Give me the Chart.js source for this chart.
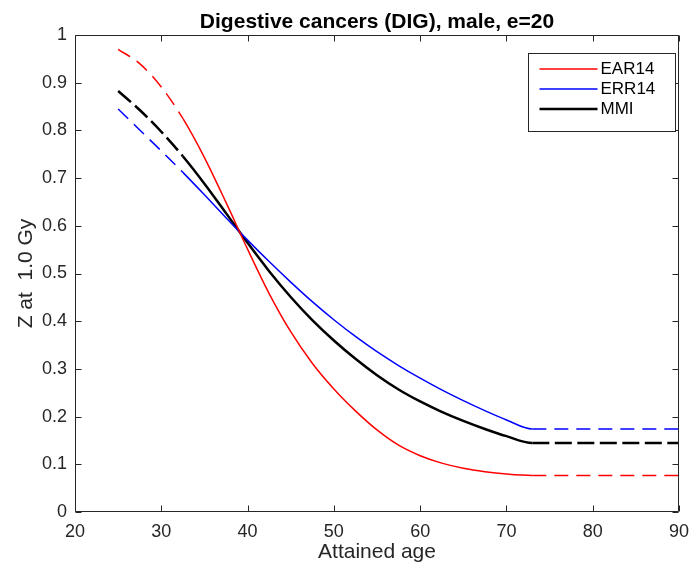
<!DOCTYPE html>
<html>
<head>
<meta charset="utf-8">
<script src="https://cdn.jsdelivr.net/npm/chart.js@4.4.0/dist/chart.umd.min.js"></script>
<style>
  html, body { margin: 0; padding: 0; background: #fff; }
  canvas { display: block; }
</style>
</head>
<body>
<canvas id="zChart" width="691" height="571"></canvas>
<script>
// attained age
var ages = [25, 27.5, 30, 32.5, 35, 37.5, 40, 42.5, 45, 47.5, 50, 52.5, 55, 57.5, 60, 62.5, 65, 67.5, 70, 73, 90];
// Z at 1.0 Gy
var ear14 = [0.970, 0.940, 0.891, 0.825, 0.743, 0.649, 0.551, 0.458, 0.378, 0.312, 0.258, 0.212, 0.172, 0.140, 0.118, 0.1025, 0.0918, 0.0845, 0.0795, 0.0765, 0.0765];
var err14 = [0.845, 0.801, 0.757, 0.712, 0.665, 0.617, 0.570, 0.525, 0.482, 0.441, 0.403, 0.368, 0.336, 0.307, 0.2805, 0.256, 0.2335, 0.2125, 0.193, 0.174, 0.174];
var mmi   = [0.8825, 0.8427, 0.7972, 0.7459, 0.6884, 0.6266, 0.5643, 0.5049, 0.4508, 0.4023, 0.3595, 0.3212, 0.2868, 0.2569, 0.2318, 0.2100, 0.1910, 0.1741, 0.159, 0.1448, 0.1448];
var labels = ['EAR14', 'ERR14', 'MMI'];
var xTicks = [20, 30, 40, 50, 60, 70, 80, 90];
var yTicks = [0, 0.1, 0.2, 0.3, 0.4, 0.5, 0.6, 0.7, 0.8, 0.9, 1];

var lineColors = ['#ff0000', '#0000ff', '#000000'];
var lineWidths = [1.5, 1.5, 2.5];
var solidFrom = 32.5, solidTo = 73;
var axisColor = '#262626';
Chart.defaults.font.family = '"Liberation Sans", Arial, sans-serif';

function pts(vals){
   return ages.map(function(a, i){ return {x: a, y: vals[i]} });
}
function dashOutside(dash){
   return function(ctx){
      var x0 = ctx.p0.parsed.x;
      return (x0 < solidFrom || x0 >= solidTo) ? dash : [];
   }
}

/*=========================-- frame + inward ticks -=======================*/
var frameBox = {
   id: 'frameBox',
   afterDatasetsDraw(chart) {
      const {ctx, chartArea:{top, bottom, left, right}, scales:{x, y}} = chart;
      const L = Math.round(left) + 0.5, R = Math.round(right) - 0.5;
      const T = Math.round(top) + 0.5, B = Math.round(bottom) - 0.5;
      const tl = 6;
      ctx.save();
      ctx.setLineDash([]);
      ctx.strokeStyle = axisColor;
      ctx.lineWidth = 1;
      ctx.beginPath();
      ctx.rect(L, T, R - L, B - T);
      xTicks.forEach(function(v){
         const px = Math.round(x.getPixelForValue(v)) + 0.5;
         ctx.moveTo(px, B); ctx.lineTo(px, B - tl);
         ctx.moveTo(px, T); ctx.lineTo(px, T + tl);
      });
      yTicks.forEach(function(v){
         const py = Math.round(y.getPixelForValue(v)) + 0.5;
         ctx.moveTo(L, py); ctx.lineTo(L + tl, py);
         ctx.moveTo(R, py); ctx.lineTo(R - tl, py);
      });
      ctx.stroke();
      ctx.restore();
   }
}

/*=========================-- boxed legend -=======================*/
var boxLegend = {
   id: 'boxLegend',
   afterDraw(chart) {
      const {ctx, chartArea:{top, right}} = chart;
      const w = 147, h = 78;
      const bx = Math.round(right) - 4 - w + 0.5, by = Math.round(top) + 18 + 0.5;
      ctx.save();
      ctx.setLineDash([]);
      ctx.fillStyle = '#fff';
      ctx.fillRect(bx, by, w, h);
      ctx.strokeStyle = axisColor;
      ctx.lineWidth = 1;
      ctx.strokeRect(bx, by, w, h);
      ctx.font = '17px "Liberation Sans", Arial, sans-serif';
      ctx.textBaseline = 'middle';
      ctx.textAlign = 'left';
      labels.forEach(function(lab, i){
         const ry = by + 15.5 + i * 20;
         ctx.beginPath();
         ctx.strokeStyle = lineColors[i];
         ctx.lineWidth = lineWidths[i];
         ctx.moveTo(bx + 11, ry); ctx.lineTo(bx + 69, ry);
         ctx.stroke();
         ctx.fillStyle = '#000';
         ctx.fillText(lab, bx + 72, ry + 0.5);
      });
      ctx.restore();
   }
}

function series(i, vals, dash){
   return {
      label: labels[i],
      data: pts(vals),
      borderColor: lineColors[i],
      borderWidth: lineWidths[i],
      segment: {
         borderColor: lineColors[i],
         borderDash: dashOutside(dash)
      }
   }
}

var data = {
   datasets: [
      series(0, ear14, [14, 8]),
      series(1, err14, [14, 8]),
      series(2, mmi, [17, 5.5])
   ]
}

function noPadX(s){ s.height = 59; s.paddingLeft = 0; s.paddingRight = 0; }
function noPadY(s){ s.width = 75; s.paddingTop = 0; s.paddingBottom = 0; }

var config = {
   type: 'line',
   data,
   options: {
      responsive: false,
      animation: false,
      devicePixelRatio: 1,
      cubicInterpolationMode: 'monotone',
      elements: { point: { radius: 0 } },
      layout: { padding: { top: 0, right: 12, left: 0, bottom: 0 } },
      plugins: {
         legend: { display: false },
         tooltip: { enabled: false },
         title: {
            display: true,
            fullSize: false,
            text: 'Digestive cancers (DIG), male, e=20',
            color: '#000',
            font: { size: 21, weight: 'bold', lineHeight: '24px' },
            padding: { top: 10, bottom: 1 }
         }
      },
      scales: {
         x: {
            type: 'linear',
            min: 20, max: 90,
            afterBuildTicks: function(s){ s.ticks = xTicks.map(function(v){ return {value: v} }) },
            afterFit: noPadX,
            grid: { display: false, drawTicks: false },
            border: { display: false },
            ticks: { color: axisColor, font: { size: 18 }, padding: 9, maxRotation: 0 },
            title: { display: true, text: 'Attained age', color: axisColor, font: { size: 21 }, padding: { top: 0, bottom: 6 } }
         },
         y: {
            type: 'linear',
            min: 0, max: 1,
            afterBuildTicks: function(s){ s.ticks = yTicks.map(function(v){ return {value: v} }) },
            afterFit: noPadY,
            grid: { display: false, drawTicks: false },
            border: { display: false },
            ticks: { color: axisColor, font: { size: 18 }, padding: 8,
               callback: function(v){ return String(Math.round(v * 10) / 10) } },
            title: { display: true, text: 'Z at  1.0 Gy', color: axisColor, font: { size: 21 }, padding: { top: 14, bottom: 0 } }
         }
      }
   },
   plugins: [frameBox, boxLegend]
}

let zChart = new Chart(document.getElementById('zChart'), config);
</script>
</body>
</html>
